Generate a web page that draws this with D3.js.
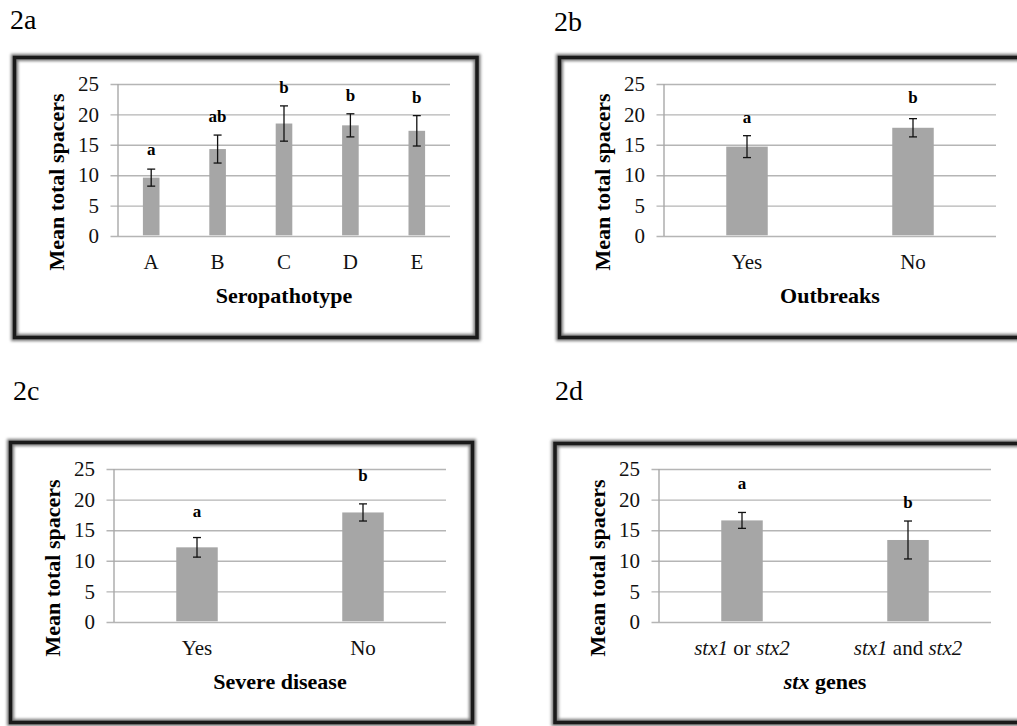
<!DOCTYPE html>
<html>
<head>
<meta charset="utf-8">
<script src="https://cdn.jsdelivr.net/npm/d3@7"></script>
<style>
  body { margin: 0; background: #fff; }
</style>
</head>
<body>
<div id="chart"></div>
<script>
// data
var yTicks = [0, 5, 10, 15, 20, 25];

var catsA = ["A", "B", "C", "D", "E"];
var meansA = [9.6, 14.3, 18.5, 18.2, 17.3];
var errsA = [1.4, 2.3, 2.9, 1.9, 2.5];
var lettersA = ["a", "ab", "b", "b", "b"];
var letterYA = [13.4, 18.7, 23.6, 22.2, 21.8];

var catsB = ["Yes", "No"];
var meansB = [14.7, 17.8];
var errsB = [1.8, 1.5];
var lettersB = ["a", "b"];
var letterYB = [18.6, 21.8];

var catsC = ["Yes", "No"];
var meansC = [12.2, 17.9];
var errsC = [1.6, 1.4];
var lettersC = ["a", "b"];
var letterYC = [17.1, 23.1];

var catsD = ["stx1 or stx2", "stx1 and stx2"];
var meansD = [16.6, 13.4];
var errsD = [1.3, 3.1];
var lettersD = ["a", "b"];
var letterYD = [21.7, 18.6];

var svgWidth = 1017;
var svgHeight = 726;
var serif = "'Liberation Serif', 'Times New Roman', serif";

var svg = d3.select("#chart")
  .append("svg")
  .attr("width", svgWidth)
  .attr("height", svgHeight)
  .style("font-family", serif);

// soft shadow for the frames
var defs = svg.append("defs");
defs.append("filter")
  .attr("id", "soft")
  .attr("x", "-5%").attr("y", "-5%")
  .attr("width", "110%").attr("height", "110%")
  .append("feGaussianBlur")
  .attr("stdDeviation", 1.6);

// layout for each panel
var panels = [
  { tag: "2a", tagX: 10, tagY: 29, box: [14.5, 57.5, 462.5, 280],
    x0: 118, y0: 236, w: 332, h: 152,
    cats: catsA, means: meansA, errs: errsA, letters: lettersA, letterY: letterYA,
    title: [["Seropathotype", false]] },
  { tag: "2b", tagX: 554, tagY: 31, box: [559.5, 57.5, 480, 280],
    x0: 664, y0: 236, w: 332, h: 152,
    cats: catsB, means: meansB, errs: errsB, letters: lettersB, letterY: letterYB,
    title: [["Outbreaks", false]] },
  { tag: "2c", tagX: 13, tagY: 400, box: [10.5, 442.5, 462, 280],
    x0: 114, y0: 622, w: 332, h: 153,
    cats: catsC, means: meansC, errs: errsC, letters: lettersC, letterY: letterYC,
    title: [["Severe disease", false]] },
  { tag: "2d", tagX: 555, tagY: 400, box: [555, 443.5, 480, 279],
    x0: 659, y0: 622, w: 332, h: 153,
    cats: catsD, means: meansD, errs: errsD, letters: lettersD, letterY: letterYD,
    title: [["stx", true], [" genes", false]] }
];

// split "stx1 or stx2" into italic / upright pieces
function pieces(label) {
  return label.split(/(stx\d?)/).filter(s => s.length)
    .map(s => [s, /^stx/.test(s)]);
}

panels.forEach(function(p) {

  // panel tag
  svg.append("text")
    .attr("x", p.tagX)
    .attr("y", p.tagY)
    .style("font-size", "28px")
    .text(p.tag);

  // frame
  svg.append("rect")
    .attr("x", p.box[0]).attr("y", p.box[1])
    .attr("width", p.box[2]).attr("height", p.box[3])
    .attr("fill", "none")
    .attr("stroke", "#777")
    .attr("stroke-width", 7)
    .attr("filter", "url(#soft)");

  svg.append("rect")
    .attr("x", p.box[0]).attr("y", p.box[1])
    .attr("width", p.box[2]).attr("height", p.box[3])
    .attr("fill", "none")
    .attr("stroke", "#1a1a1a")
    .attr("stroke-width", 3.5);

  var g = svg.append("g")
    .attr("transform", `translate(${p.x0}, ${p.y0 - p.h})`);

  var yScale = d3.scaleLinear()
    .domain([0, 25])
    .range([p.h, 0]);

  var xScale = d3.scaleBand()
    .domain(p.cats)
    .range([0, p.w])
    .paddingInner(0.75)
    .paddingOuter(0.375);

  // gridlines + y tick labels
  var leftAxis = d3.axisLeft(yScale)
    .tickValues(yTicks)
    .tickSize(-(p.w + 7.5))
    .tickPadding(11.5);

  var yAxis = g.append("g")
    .attr("transform", "translate(-7.5, 0)")
    .call(leftAxis);

  yAxis.select(".domain").remove();
  yAxis.selectAll("line")
    .attr("stroke", "#b5b5b5")
    .attr("stroke-width", 1.4);
  yAxis.selectAll("text")
    .style("font-family", serif)
    .style("font-size", "21px")
    .attr("fill", "#111");

  // vertical axis line
  g.append("line")
    .attr("x1", 0).attr("x2", 0)
    .attr("y1", 0).attr("y2", p.h)
    .attr("stroke", "#a8a8a8")
    .attr("stroke-width", 1.4);

  // bars
  g.selectAll(".bar")
    .data(p.cats)
    .enter()
    .append("rect")
    .attr("class", "bar")
    .attr("x", d => xScale(d))
    .attr("width", xScale.bandwidth())
    .attr("y", (d, i) => yScale(p.means[i]))
    .attr("height", (d, i) => p.h - yScale(p.means[i]) - 0.7)
    .attr("fill", "#a6a6a6");

  // error bars
  var eb = g.selectAll(".err")
    .data(p.cats)
    .enter()
    .append("g")
    .attr("class", "err")
    .attr("transform", d => `translate(${xScale(d) + xScale.bandwidth() / 2}, 0)`)
    .attr("stroke", "#111")
    .attr("stroke-width", 1.3);

  eb.append("line")
    .attr("y1", (d, i) => yScale(p.means[i] + p.errs[i]))
    .attr("y2", (d, i) => yScale(p.means[i] - p.errs[i]));
  eb.append("line")
    .attr("x1", -4).attr("x2", 4)
    .attr("y1", (d, i) => yScale(p.means[i] + p.errs[i]))
    .attr("y2", (d, i) => yScale(p.means[i] + p.errs[i]));
  eb.append("line")
    .attr("x1", -4).attr("x2", 4)
    .attr("y1", (d, i) => yScale(p.means[i] - p.errs[i]))
    .attr("y2", (d, i) => yScale(p.means[i] - p.errs[i]));

  // significance letters
  g.selectAll(".sig")
    .data(p.cats)
    .enter()
    .append("text")
    .attr("class", "sig")
    .attr("x", d => xScale(d) + xScale.bandwidth() / 2)
    .attr("y", (d, i) => yScale(p.letterY[i]))
    .attr("text-anchor", "middle")
    .style("font-weight", "bold")
    .style("font-size", "17px")
    .text((d, i) => p.letters[i]);

  // x tick labels
  var bottomAxis = d3.axisBottom(xScale).tickSize(0).tickPadding(0);
  var xAxis = g.append("g")
    .attr("transform", `translate(0, ${p.h})`)
    .call(bottomAxis);
  xAxis.select(".domain").remove();
  xAxis.selectAll("text")
    .attr("dy", null)
    .attr("y", 33)
    .style("font-family", serif)
    .style("font-size", "21px")
    .attr("fill", "#111")
    .each(function(d) {
      var t = d3.select(this).text("");
      pieces(d).forEach(function(pc) {
        t.append("tspan")
          .style("font-style", pc[1] ? "italic" : null)
          .text(pc[0]);
      });
    });

  // x title
  var xt = g.append("text")
    .attr("x", p.w / 2)
    .attr("y", p.h + 67)
    .attr("text-anchor", "middle")
    .style("font-weight", "bold")
    .style("font-size", "22px");
  p.title.forEach(function(pc) {
    xt.append("tspan")
      .style("font-style", pc[1] ? "italic" : null)
      .text(pc[0]);
  });

  // y title
  g.append("text")
    .attr("transform", `translate(-54, ${p.h - 54}) rotate(-90)`)
    .attr("text-anchor", "middle")
    .style("font-weight", "bold")
    .style("font-size", "22px")
    .text("Mean total spacers");
});
</script>
</body>
</html>
